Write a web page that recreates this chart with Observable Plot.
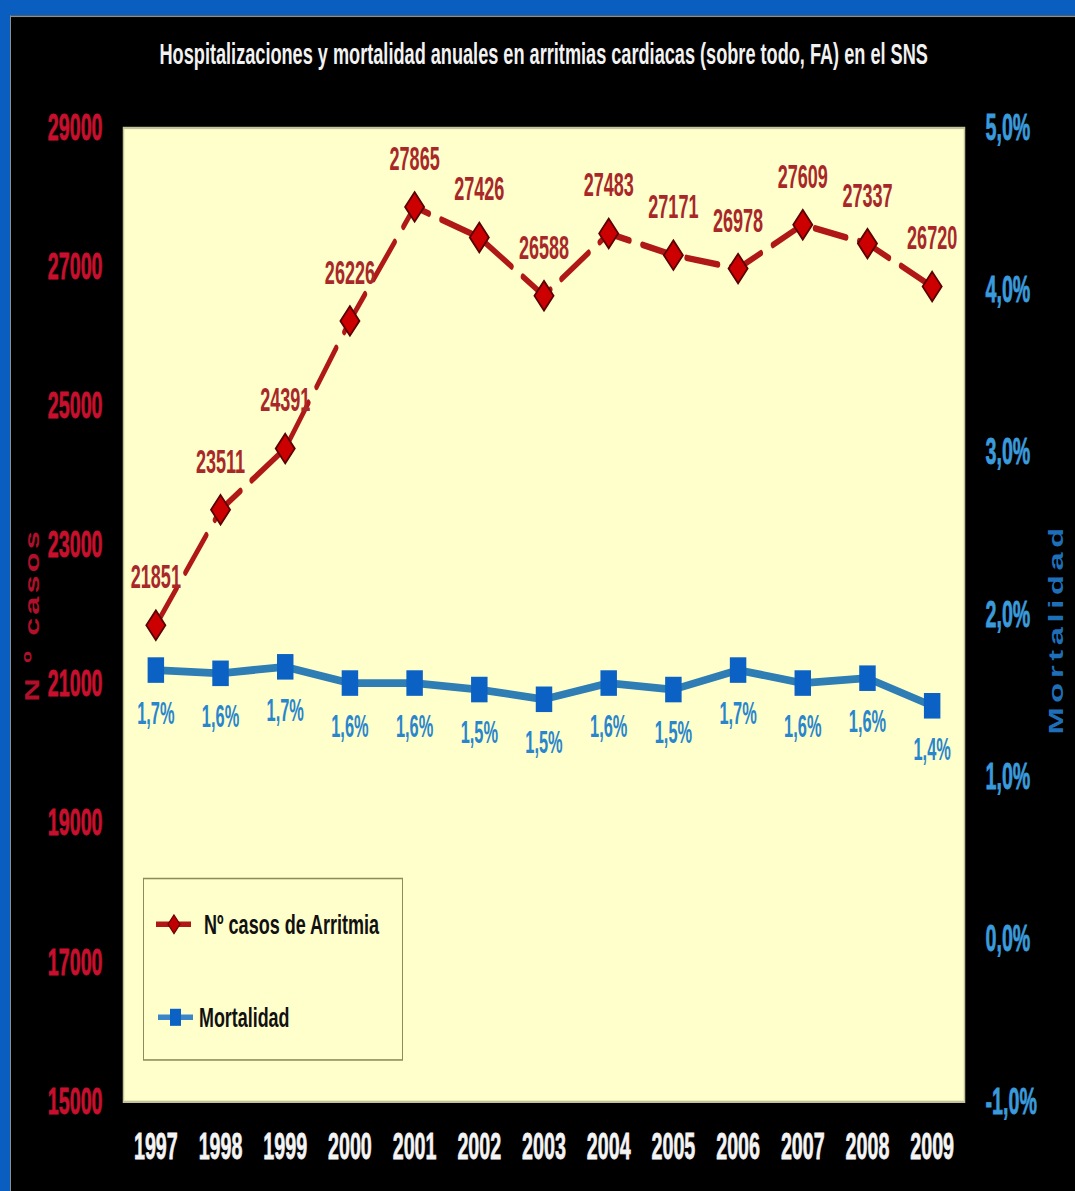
<!DOCTYPE html>
<html><head><meta charset="utf-8">
<script src="https://cdn.jsdelivr.net/npm/d3@7"></script>
<script src="https://cdn.jsdelivr.net/npm/@observablehq/plot@0.6"></script>
<style>
html,body{margin:0;padding:0;background:#000;}
#page{position:relative;width:1075px;height:1191px;overflow:hidden;background:#000;}
#stage{position:absolute;left:0;top:0;width:1075px;height:768px;transform:scaleY(1.550781);transform-origin:0 0;}
.narrow{font-family:'Liberation Sans',Arial,sans-serif;font-weight:bold;}
#bt{position:absolute;left:0;top:0;width:1075px;height:9.7px;background:#0A5EC0;}
#bl{position:absolute;left:0;top:0;width:10px;height:768px;background:#0A5EC0;}
#gt{position:absolute;left:10px;top:9.7px;width:1065px;height:1.6px;background:#8E8E8E;}
#gl{position:absolute;left:10px;top:9.7px;width:1.2px;height:758px;background:#8E8E8E;}
#title{position:absolute;left:123px;top:25px;width:841px;text-align:center;color:#F2F2F2;font-size:18.5px;line-height:20px;white-space:nowrap;}
#title span{display:inline-block;transform-origin:50% 50%;}
#chart{position:absolute;left:0;top:0;}
#legend{position:absolute;left:143px;top:566px;width:260px;height:117.5px;box-sizing:border-box;border:1.6px solid #8C8C5A;}
.entry{position:absolute;left:0;height:24px;color:#111;font-size:17.5px;line-height:24px;white-space:nowrap;}
.entry svg{position:absolute;left:0;top:0;}
.entry span{position:absolute;top:0;display:inline-block;transform-origin:0 50%;}
</style>
</head><body>
<div id="page"><div id="stage">
<div id="bt"></div><div id="bl"></div><div id="gt"></div><div id="gl"></div>
<div id="chart"></div>
<div id="title" class="narrow"><span data-w="768">Hospitalizaciones y mortalidad anuales en arritmias cardiacas (sobre todo, FA) en el SNS</span></div>
<div id="legend">
  <div class="entry narrow" style="top:17px;width:256px;">
    <svg width="56" height="24"><line x1="12" x2="47" y1="12" y2="12" stroke="#B01818" stroke-width="3.5"/><polygon points="30,6 36,12 30,18 24,12" fill="#C00000" stroke="#6A0000" stroke-width="1"/></svg>
    <span data-w="175" style="left:60px;">Nº casos de Arritmia</span>
  </div>
  <div class="entry narrow" style="top:76.5px;width:256px;">
    <svg width="56" height="24"><line x1="14" x2="49" y1="12" y2="12" stroke="#3A86C8" stroke-width="3.5"/><rect x="26" y="6.5" width="11" height="11" fill="#0B62C4"/></svg>
    <span data-w="90" style="left:55px;">Mortalidad</span>
  </div>
</div>
</div></div>
<script>
const years = [1997,1998,1999,2000,2001,2002,2003,2004,2005,2006,2007,2008,2009];
const casos = [21851,23511,24391,26226,27865,27426,26588,27483,27171,26978,27609,27337,26720];
const mortalidad = [1.66,1.64,1.68,1.58,1.58,1.54,1.48,1.58,1.54,1.66,1.58,1.61,1.44];
const mortalidadEtiquetas = ["1,7%","1,6%","1,7%","1,6%","1,6%","1,5%","1,5%","1,6%","1,5%","1,7%","1,6%","1,6%","1,4%"];
const ticksCasos = [15000,17000,19000,21000,23000,25000,27000,29000];
const ticksMortalidad = [-1,0,1,2,3,4,5];

const S = 1191/768;
const yMin = 15000, yMax = 29000, mMin = -1, mMax = 5;
const toY = m => yMin + (m - mMin) * (yMax - yMin) / (mMax - mMin);
const fromY = v => mMin + (v - yMin) * (mMax - mMin) / (yMax - yMin);
const pct = m => (Math.round(m * 10) / 10).toFixed(1).replace(".", ",") + "%";

const casosData = years.map((y, i) => ({year: y, v: casos[i]}));
const mortData = years.map((y, i) => ({year: y, m: mortalidad[i], label: mortalidadEtiquetas[i]}));

const narrow = "Liberation Sans, Arial, sans-serif";
const wide = "Arial, Liberation Sans, sans-serif";

const chart = Plot.plot({
  width: 1075, height: 768,
  marginLeft: 123, marginRight: 111, marginTop: 82, marginBottom: 58,
  style: {background: "transparent", overflow: "visible"},
  x: {type: "point", domain: years, padding: 0.5, round: false},
  y: {domain: [yMin, yMax]},
  marks: [
    Plot.frame({fill: "#FFFFCC", stroke: "#C4C49C", strokeWidth: 1.5}),
    Plot.axisX({tickSize: 0, tickPadding: 20, color: "#F4F4F4", fontSize: 24, fontWeight: "bold", fontFamily: narrow, label: null, tickFormat: d => String(d)}),
    Plot.axisY(ticksCasos, {tickSize: 0, tickPadding: 21, color: "#C8102E", fontSize: 24, fontWeight: "bold", fontFamily: narrow, label: null, tickFormat: d => String(d)}),
    Plot.axisY(ticksMortalidad.map(toY), {anchor: "right", tickSize: 0, tickPadding: 21, color: "#3A9BDC", fontSize: 24, fontWeight: "bold", fontFamily: narrow, label: null, tickFormat: v => pct(fromY(v))}),
    Plot.line(mortData, {x: "year", y: d => toY(d.m), stroke: "#2F7DB5", strokeWidth: 5}),
    Plot.dot(mortData, {x: "year", y: d => toY(d.m), symbol: "square", r: 9.3, fill: "#0B62C4", stroke: "none"}),
    Plot.text(mortData, {x: "year", y: d => toY(d.m), text: "label", dy: 44 / S, fill: "#2A86CC", fontSize: 20, fontWeight: "bold", fontFamily: narrow}),
    Plot.line(casosData, {x: "year", y: "v", stroke: "#B01818", strokeWidth: 4.2, strokeDasharray: "32,13"}),
    Plot.dot(casosData, {x: "year", y: "v", symbol: "diamond2", r: 8.6, fill: "#CC0000", stroke: "#5A0000", strokeWidth: 1.5}),
    Plot.text(casosData, {x: "year", y: "v", text: d => String(d.v), dy: -48 / S, fill: "#A8282A", fontSize: 22, fontWeight: "bold", fontFamily: narrow}),
    Plot.text(["N º casos"], {frameAnchor: "left", dx: -91, rotate: -90, textAnchor: "middle", fill: "#B0102A", fontSize: 21, fontWeight: "bold", fontFamily: wide}),
    Plot.text(["Mortalidad"], {frameAnchor: "right", dx: 92, dy: 9, rotate: -90, textAnchor: "middle", fill: "#1F6FB8", fontSize: 21, fontWeight: "bold", fontFamily: wide})
  ]
});
document.getElementById("chart").appendChild(chart);

// Arial-Narrow-like horizontal compression of the condensed labels
chart.querySelectorAll(`g[font-family="${narrow}"] text`).forEach(t => {
  const L = t.getComputedTextLength();
  t.setAttribute("textLength", (L * 0.82).toFixed(2));
  t.setAttribute("lengthAdjust", "spacingAndGlyphs");
});
// slightly heavier strokes on axis tick labels
chart.querySelectorAll(`g[aria-label="x-axis tick label"], g[aria-label="y-axis tick label"]`).forEach(g => {
  const f = g.getAttribute("fill");
  if (f) { g.setAttribute("stroke", f); g.setAttribute("stroke-width", "0.5"); }
});
// spaced-out rotated axis titles
chart.querySelectorAll(`g[font-family="${wide}"] text`).forEach(t => {
  t.setAttribute("letter-spacing", t.textContent === "Mortalidad" ? "3px" : "2px");
});
document.querySelectorAll("span[data-w]").forEach(s => {
  const w = s.offsetWidth;
  s.style.transform = `scaleX(${(+s.dataset.w / w).toFixed(4)})`;
});
</script>
</body></html>
